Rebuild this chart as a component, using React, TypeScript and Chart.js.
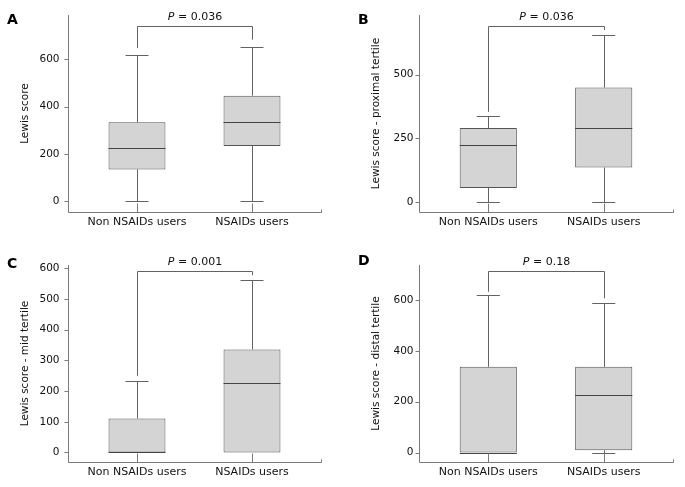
import React, { useEffect, useRef } from "react";
import { Chart, registerables } from "chart.js";
Chart.register(...registerables);

// ---------------- DATA ----------------
const categories = ["Non NSAIDs users", "NSAIDs users"];

// Panel A - Lewis score
const minA = [0, 0];
const q1A = [135, 234];
const medA = [224, 335];
const q3A = [334, 447];
const maxA = [619, 654];
const ticksA = [0, 200, 400, 600];

// Panel B - proximal tertile
const minB = [0, 0];
const q1B = [56, 136];
const medB = [225, 291];
const q3B = [291, 449];
const maxB = [336, 656];
const ticksB = [0, 250, 500];

// Panel C - mid tertile
const minC = [0, 0];
const q1C = [0, 0];
const medC = [0, 225];
const q3C = [111, 336];
const maxC = [233, 562];
const ticksC = [0, 100, 200, 300, 400, 500, 600];

// Panel D - distal tertile
const minD = [0, 0];
const q1D = [0, 9];
const medD = [0, 226];
const q3D = [337, 337];
const maxD = [619, 589];
const ticksD = [0, 200, 400, 600];

const letters = ["A", "B", "C", "D"];
const yTitles = [
  "Lewis score",
  "Lewis score - proximal tertile",
  "Lewis score - mid tertile",
  "Lewis score - distal tertile",
];
const pValues = ["0.036", "0.036", "0.001", "0.18"];
const bracketTops = [741, 691, 592, 714];
const bracketLegEnds = [
  [648, 684],
  [354, 674],
  [250, 578],
  [632, 606],
];
const yRanges = [
  [-45, 788],
  [-38, 733],
  [-31, 611],
  [-37, 737],
];

const stats = [
  { min: minA, q1: q1A, med: medA, q3: q3A, max: maxA, ticks: ticksA },
  { min: minB, q1: q1B, med: medB, q3: q3B, max: maxB, ticks: ticksB },
  { min: minC, q1: q1C, med: medC, q3: q3C, max: maxC, ticks: ticksC },
  { min: minD, q1: q1D, med: medD, q3: q3D, max: maxD, ticks: ticksD },
];

// ---------------- LAYOUT / STYLE ----------------
const layouts = [
  { left: 0, top: 0, w: 340, h: 240, l: 68, r: 321, t: 15, b: 212, lx: 7, ly: 24, titlePad: 18.7, tickPad: 8.5 },
  { left: 340, top: 0, w: 345, h: 240, l: 79, r: 333, t: 15, b: 212, lx: 18, ly: 24, titlePad: 30.4, tickPad: 5.5 },
  { left: 0, top: 240, w: 340, h: 247, l: 68, r: 321, t: 25, b: 222, lx: 7, ly: 28, titlePad: 18.7, tickPad: 8.5 },
  { left: 340, top: 240, w: 345, h: 247, l: 79, r: 333, t: 25, b: 222, lx: 18, ly: 25, titlePad: 30.4, tickPad: 5.5 },
];

const FONT = "DejaVu Sans";
const TEXT = "#111111";
const AXIS = "#7a7a7a";
const LINE = "#626262";
const BOX_FILL = "#d4d4d4";
const BOX_BORDER = "#555555";
const MEDIAN = "#444444";
const CAP_HALF = 0.1;

function makePlugin(idx: number) {
  const s = stats[idx];
  const lay = layouts[idx];
  return {
    id: "boxExtras" + idx,
    afterDatasetsDraw(chart: any) {
      const { ctx, chartArea: ca, scales } = chart;
      const x = scales.x;
      const y = scales.y;
      const px = (v: number) => Math.round(v) + 0.5;
      ctx.save();
      ctx.lineWidth = 1;

      // whiskers, caps, medians
      const meta = chart.getDatasetMeta(0);
      categories.forEach((_, i) => {
        const cx = px(x.getPixelForValue(i));
        const cl = x.getPixelForValue(i - CAP_HALF);
        const cr = x.getPixelForValue(i + CAP_HALF);
        ctx.strokeStyle = LINE;
        ctx.beginPath();
        ctx.moveTo(cx, y.getPixelForValue(s.q3[i]));
        ctx.lineTo(cx, px(y.getPixelForValue(s.max[i])));
        ctx.moveTo(cl, px(y.getPixelForValue(s.max[i])));
        ctx.lineTo(cr, px(y.getPixelForValue(s.max[i])));
        if (s.q1[i] > s.min[i]) {
          ctx.moveTo(cx, y.getPixelForValue(s.q1[i]));
          ctx.lineTo(cx, px(y.getPixelForValue(s.min[i])));
          ctx.moveTo(cl, px(y.getPixelForValue(s.min[i])));
          ctx.lineTo(cr, px(y.getPixelForValue(s.min[i])));
        }
        ctx.stroke();
        const el = meta.data[i];
        ctx.strokeStyle = MEDIAN;
        ctx.beginPath();
        const my = px(y.getPixelForValue(s.med[i]));
        ctx.moveTo(el.x - el.width / 2, my);
        ctx.lineTo(el.x + el.width / 2, my);
        ctx.stroke();
      });

      // axes
      ctx.strokeStyle = AXIS;
      ctx.beginPath();
      ctx.moveTo(px(ca.left), ca.top);
      ctx.lineTo(px(ca.left), px(ca.bottom));
      ctx.lineTo(px(ca.right), px(ca.bottom));
      ctx.lineTo(px(ca.right), px(ca.bottom) - 3);
      s.ticks.forEach((v) => {
        const yy = px(y.getPixelForValue(v));
        ctx.moveTo(px(ca.left), yy);
        ctx.lineTo(px(ca.left) - 4, yy);
      });
      categories.forEach((_, i) => {
        const xx = px(x.getPixelForValue(i));
        ctx.moveTo(xx, px(ca.bottom));
        ctx.lineTo(xx, px(ca.bottom) - 9);
      });
      ctx.stroke();

      // significance bracket
      const xl = px(x.getPixelForValue(0));
      const xr = px(x.getPixelForValue(1));
      const yt = px(y.getPixelForValue(bracketTops[idx]));
      ctx.strokeStyle = LINE;
      ctx.beginPath();
      ctx.moveTo(xl, y.getPixelForValue(bracketLegEnds[idx][0]));
      ctx.lineTo(xl, yt);
      ctx.lineTo(xr, yt);
      ctx.lineTo(xr, y.getPixelForValue(bracketLegEnds[idx][1]));
      ctx.stroke();

      // P label
      ctx.fillStyle = TEXT;
      ctx.textBaseline = "alphabetic";
      ctx.textAlign = "left";
      const pFont = `italic 11px "${FONT}"`;
      const rFont = `11px "${FONT}"`;
      ctx.font = pFont;
      const wP = ctx.measureText("P").width;
      ctx.font = rFont;
      const rest = " = " + pValues[idx];
      const wR = ctx.measureText(rest).width;
      const startX = (xl + xr) / 2 - (wP + wR) / 2;
      const by = yt - 7;
      ctx.font = pFont;
      ctx.fillText("P", startX, by);
      ctx.font = rFont;
      ctx.fillText(rest, startX + wP, by);

      // panel letter
      ctx.font = `bold 14px "${FONT}"`;
      ctx.fillStyle = "#000";
      ctx.fillText(letters[idx], lay.lx, lay.ly);
      ctx.restore();
    },
  };
}

function Panel({ idx }: { idx: number }) {
  const ref = useRef<HTMLCanvasElement>(null);
  const lay = layouts[idx];
  useEffect(() => {
    const s = stats[idx];
    const chart = new Chart(ref.current as HTMLCanvasElement, {
      type: "bar",
      data: {
        datasets: [
          {
            data: categories.map((_, i) => ({ x: i, y: [s.q1[i], s.q3[i]] })) as any,
            backgroundColor: BOX_FILL,
            borderColor: BOX_BORDER,
            borderWidth: 1,
            borderSkipped: false,
            categoryPercentage: 1,
            barPercentage: 0.495,
          },
        ],
      },
      options: {
        animation: false,
        responsive: false,
        devicePixelRatio: 1,
        events: [],
        layout: {
          autoPadding: false,
          padding: { left: 0, top: lay.t, right: lay.w - lay.r, bottom: 0 },
        } as any,
        plugins: { legend: { display: false }, tooltip: { enabled: false } },
        scales: {
          x: {
            type: "linear",
            min: -0.6,
            max: 1.6,
            offset: false,
            grid: { display: false, drawTicks: false, offset: false },
            border: { display: false },
            afterBuildTicks: (sc: any) => {
              sc.ticks = categories.map((_, i) => ({ value: i }));
            },
            afterFit: (sc: any) => {
              sc.height = lay.h - lay.b;
            },
            ticks: {
              padding: 4,
              maxRotation: 0,
              autoSkip: false,
              color: TEXT,
              font: { family: FONT, size: 11 },
              callback: (v: any) => categories[Math.round(Number(v))],
            },
          },
          y: {
            type: "linear",
            min: yRanges[idx][0],
            max: yRanges[idx][1],
            grid: { display: false, drawTicks: false },
            border: { display: false },
            afterBuildTicks: (sc: any) => {
              sc.ticks = s.ticks.map((v) => ({ value: v }));
            },
            afterFit: (sc: any) => {
              sc.width = lay.l;
            },
            ticks: {
              padding: lay.tickPad,
              color: TEXT,
              font: { family: FONT, size: 10.5 },
            },
            title: {
              display: true,
              text: yTitles[idx],
              color: TEXT,
              font: { family: FONT, size: 10.5 },
              padding: { top: lay.titlePad, bottom: 0 },
            },
          },
        },
      },
      plugins: [makePlugin(idx)],
    } as any);
    return () => chart.destroy();
  }, [idx]);
  return (
    <div style={{ position: "absolute", left: lay.left, top: lay.top, width: lay.w, height: lay.h }}>
      <canvas ref={ref} width={lay.w} height={lay.h} style={{ width: lay.w, height: lay.h, display: "block" }} />
    </div>
  );
}

export default function App() {
  return (
    <div style={{ position: "fixed", left: 0, top: 0, width: 685, height: 487, background: "#fff" }}>
      {[0, 1, 2, 3].map((i) => (
        <Panel key={i} idx={i} />
      ))}
    </div>
  );
}
